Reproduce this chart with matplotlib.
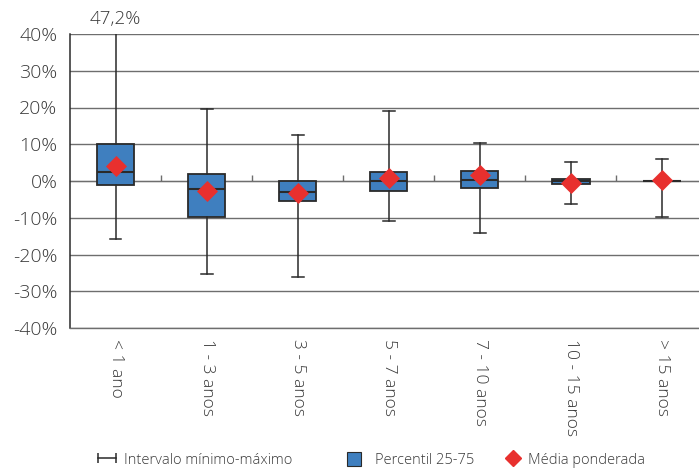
import matplotlib.pyplot as plt
from matplotlib.lines import Line2D
from matplotlib.patches import Patch

plt.rcParams["font.family"] = ["Open Sans", "DejaVu Sans"]
plt.rcParams["font.weight"] = 300

categories = ["< 1 ano", "1 - 3 anos", "3 - 5 anos", "5 - 7 anos",
              "7 - 10 anos", "10 - 15 anos", "> 15 anos"]
v_min = [-15.8, -25.3, -26.2, -10.8, -14.1, -6.3, -9.8]
v_p25 = [-1.1, -9.7, -5.5, -2.7, -2.0, -0.9, -0.1]
v_med = [2.5, -2.1, -2.9, 0.0, 0.3, 0.0, 0.0]
v_p75 = [10.0, 2.0, 0.1, 2.5, 2.7, 0.5, 0.1]
v_max = [47.2, 19.7, 12.6, 19.1, 10.3, 5.2, 6.0]
v_mean = [4.1, -2.6, -3.2, 0.9, 1.7, -0.5, 0.3]

BLUE = "#3f7fbf"
RED = "#e8302e"
DARK = "#2a2a2a"
GRID = "#6e6e6e"
TXT = "#3a3a3a"

fig = plt.figure(figsize=(6.99, 4.68), dpi=100)
ax = fig.add_axes([70 / 699, 140 / 468, 637.5 / 699, 294 / 468])

xs = list(range(len(categories)))
stats = []
for i in xs:
    stats.append({"whislo": v_min[i], "q1": v_p25[i], "med": v_med[i],
                  "q3": v_p75[i], "whishi": v_max[i], "fliers": []})

ax.bxp(stats, positions=xs, widths=0.41, patch_artist=True, showfliers=False,
       boxprops=dict(facecolor=BLUE, edgecolor=DARK, linewidth=1.3),
       medianprops=dict(color=DARK, linewidth=1.5),
       whiskerprops=dict(color=DARK, linewidth=1.1),
       capprops=dict(color=DARK, linewidth=1.1), capwidths=0.13,
       zorder=3)
ax.scatter(xs, v_mean, marker="D", s=115, color=RED, zorder=5, linewidths=0)

ax.set_xlim(-0.5, len(categories) - 0.5)
ax.set_ylim(-40, 40)
ax.set_yticks(range(-40, 41, 10))
ax.set_yticklabels([f"{t}%" for t in range(-40, 41, 10)], fontsize=14, color=TXT)
ax.yaxis.grid(True, color=GRID, linewidth=1.0)
ax.set_axisbelow(True)

ax.set_xticks(xs)
ax.set_xticklabels(categories, rotation=270, fontsize=12.5, color=TXT,
                   va="top", ha="center")
ax.tick_params(axis="x", length=0, pad=8)
ax.tick_params(axis="y", length=0, pad=9)

for side in ("top", "right"):
    ax.spines[side].set_visible(False)
ax.spines["left"].set_color(DARK)
ax.spines["left"].set_linewidth(1.1)
ax.spines["bottom"].set_color(GRID)
ax.spines["bottom"].set_linewidth(1.0)

# zero line with small ticks between categories
zero = ax.secondary_xaxis(0.5)
zero.set_xticks([i + 0.5 for i in xs[:-1]])
zero.set_xticklabels([])
zero.tick_params(length=4, width=1.0, color=GRID, direction="out")
zero.spines["bottom"].set_color(GRID)
zero.spines["bottom"].set_linewidth(1.2)

ax.annotate(f"{v_max[0]:.1f}%".replace(".", ","), xy=(0, 40),
            xytext=(0, 4), textcoords="offset points",
            ha="center", va="bottom", fontsize=13.5, color=TXT,
            annotation_clip=False)

leg_kw = dict(frameon=False, fontsize=10.5, labelcolor=TXT,
              borderaxespad=0, loc="center left")
h1 = Line2D([0], [0], color=DARK, linewidth=1.1, marker="|", markersize=7,
            markeredgewidth=1.1)
fig.legend([h1], ["Intervalo mínimo-máximo"], numpoints=2, handlelength=1.8,
           handletextpad=0.3,
           bbox_to_anchor=(88 / 699, 1 - 460 / 468), **leg_kw)
h2 = Patch(facecolor=BLUE, edgecolor=DARK, linewidth=0.8)
fig.legend([h2], ["Percentil 25-75"], handlelength=0.95, handleheight=1.15,
           handletextpad=0.95,
           bbox_to_anchor=(341 / 699, 1 - 460 / 468), **leg_kw)
h3 = Line2D([0], [0], color=RED, marker="D", linestyle="none", markersize=8)
fig.legend([h3], ["Média ponderada"], handlelength=1.0, handletextpad=0.55,
           bbox_to_anchor=(500 / 699, 1 - 460 / 468), **leg_kw)

fig.savefig("out.png", dpi=100)
